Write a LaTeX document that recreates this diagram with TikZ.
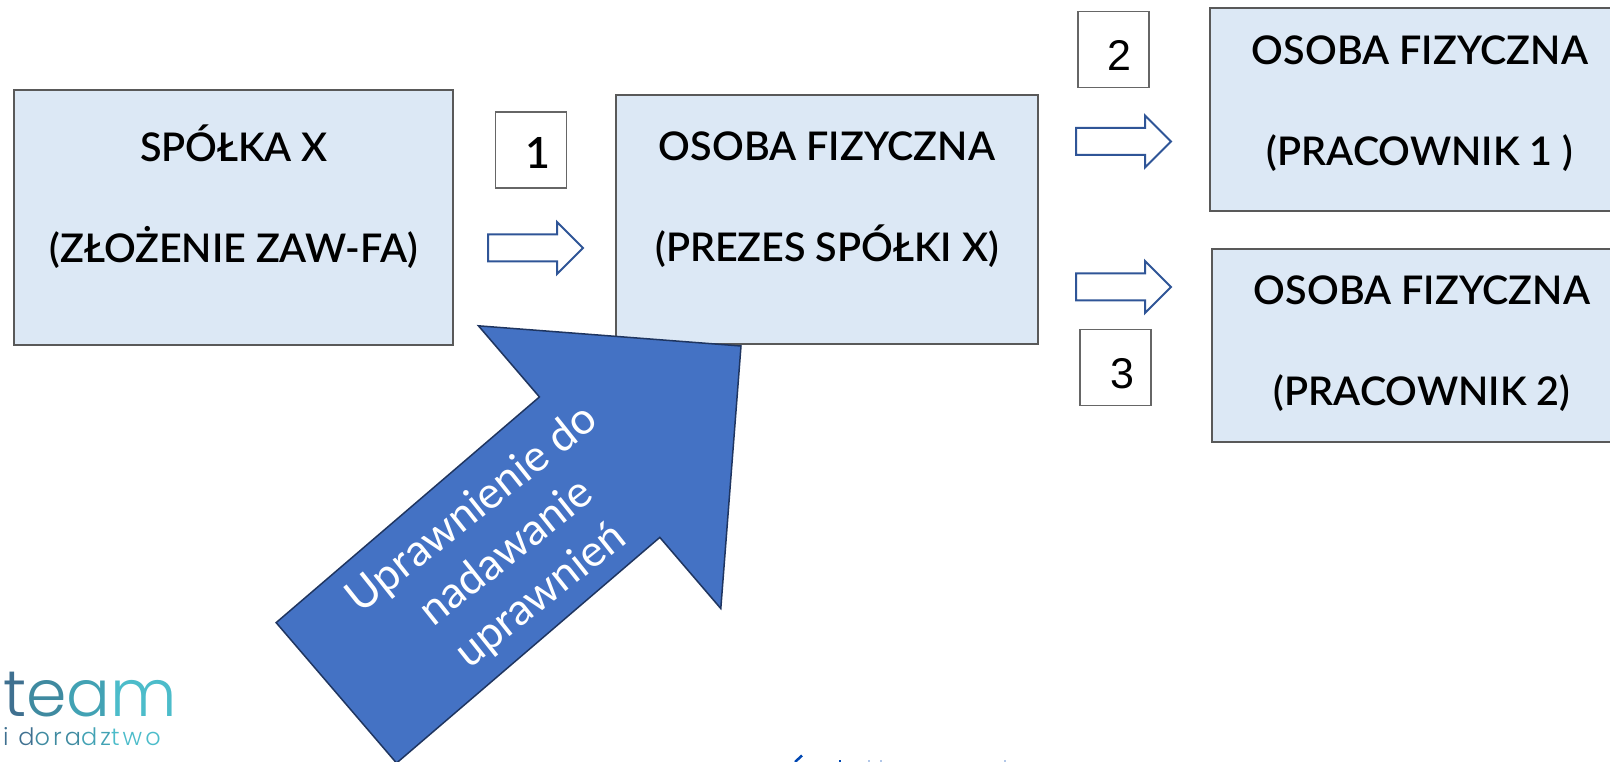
\documentclass[tikz,border=0pt]{standalone}
\usepackage{fontspec}
\setmainfont{Lato}[UprightFont=* Semibold]
\newfontfamily\cienki{Lato}
\newfontfamily\numfont{Liberation Sans}
\newfontfamily\logofont{Poppins}[UprightFont=* Light]
\newfontfamily\logosmall{Poppins}[UprightFont=* Light,LetterSpace=13]
\usetikzlibrary{shapes}
\definecolor{boxblue}{HTML}{DCE8F5}
\definecolor{bigblue}{HTML}{4472C4}
\definecolor{bigedge}{HTML}{1F3560}
\definecolor{smalledge}{HTML}{2F5597}
\definecolor{logoa}{HTML}{3F7090}
\definecolor{logob}{HTML}{3F8AA0}
\definecolor{logoc}{HTML}{42A2B4}
\definecolor{logod}{HTML}{4CBCCA}
\begin{document}
\begin{tikzpicture}[x=1pt,y=-1pt]
        \tikzstyle{osoba}=[rectangle,draw=black!65,line width=1.6pt,fill=boxblue,outer sep=0pt,inner sep=0pt]
        \tikzstyle{osobatxt}=[align=center,font=\fontsize{39.5}{101}\selectfont,inner sep=0pt]
        \tikzstyle{numer}=[rectangle,draw=black!60,line width=1.4pt,fill=white,minimum width=71pt,minimum height=76pt,inner sep=0pt,text height=43pt,font=\fontsize{43}{43}\selectfont]
        \tikzstyle{strzalka}=[single arrow,draw=smalledge,line width=2pt,fill=white,anchor=tip,minimum height=95pt,minimum width=50pt,single arrow head extend=12.5pt,single arrow tip angle=90,inner xsep=0pt,inner ysep=12.5pt,outer sep=0pt]
        \tikzstyle{resztka}=[line width=1.5pt,draw=blue!60!cyan!70!black]
        \useasboundingbox (0,0) rectangle (1610,762);
        \node[osoba,minimum width=439pt,minimum height=255pt] (spolka) at (233.5,217.5) {};
        \node[osoba,minimum width=422pt,minimum height=249pt] (prezes) at (827,219.5) {};
        \node[osoba,minimum width=420pt,minimum height=203pt] (prac1) at (1420,109.5) {};
        \node[osoba,minimum width=420pt,minimum height=193pt] (prac2) at (1422,345.5) {};
        \node[osobatxt] (spolkatxt) at (234,197) {SPÓŁKA X\\(ZŁOŻENIE ZAW-FA)};
        \node[osobatxt] (prezestxt) at (827,200) {OSOBA FIZYCZNA\\(PREZES SPÓŁKI X)};
        \node[osobatxt] (prac1txt) at (1420,104) {OSOBA FIZYCZNA\\(PRACOWNIK 1 )};
        \node[osobatxt] (prac2txt) at (1422,344) {OSOBA FIZYCZNA\\(PRACOWNIK 2)};
        \node[numer,text height=37pt] (num1) at (531,150) {\hspace*{14pt}1};
        \node[numer] (num2) at (1113.5,49.5) {\hspace*{11pt}\numfont 2};
        \node[numer] (num3) at (1115.5,367.5) {\hspace*{14pt}\numfont 3};
        \node[strzalka] (strz1) at (583,248) {};
        \node[strzalka] (strz2) at (1171,141.5) {};
        \node[strzalka] (strz3) at (1171,287) {};
        \node[single arrow,draw=bigedge,line width=1.5pt,fill=bigblue,anchor=tip,rotate=40.6,minimum height=533pt,minimum width=371pt,single arrow head extend=93.7pt,single arrow tip angle=90,inner xsep=0pt,inner ysep=91.75pt,outer sep=0pt] (uprawn) at (741,346) {};
        \node[rotate=38.5,align=center,text=white,inner sep=0pt,font=\cienki\fontsize{44}{55}\selectfont] (uprawntxt) at (507,553) {Uprawnienie do\\nadawanie\\uprawnień};
        \node[anchor=base west,inner sep=0pt,font=\logofont\fontsize{65}{65}\selectfont] (logo) at (3,716) {\textcolor{logoa}{t}\textcolor{logob}{e}\textcolor{logoc}{a}\textcolor{logod}{m}};
        \node[anchor=base west,inner sep=0pt,font=\logosmall\fontsize{24}{24}\selectfont] (logopod) at (3,745) {\textcolor{logoa}{i d}\textcolor{logob}{ora}\textcolor{logoc}{dz}\textcolor{logod}{two}};
        \draw[resztka,line width=2.5pt] (795,762) -- (802,755.5);
        \draw[resztka] (839,761) -- (841,761);
        \draw[resztka,opacity=.3] (868,761) -- (870,761) (880,761) -- (882,761) (1004,761) -- (1006,761);
    \end{tikzpicture}
\end{document}
